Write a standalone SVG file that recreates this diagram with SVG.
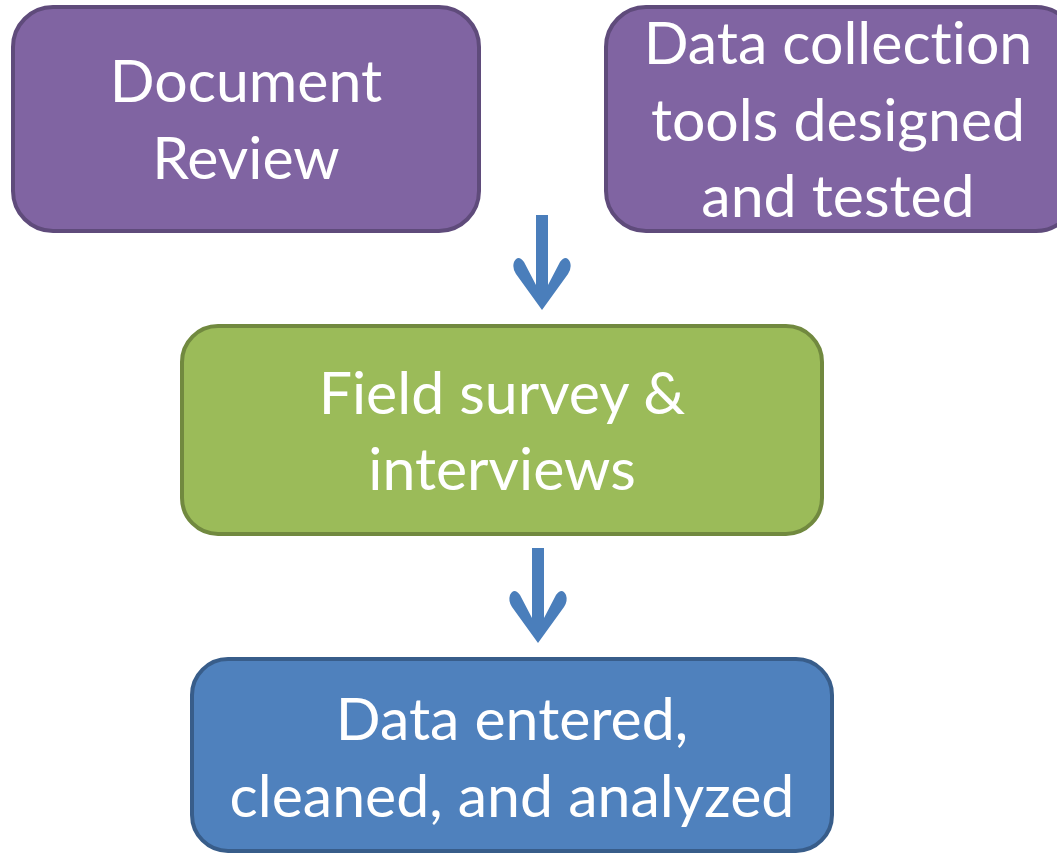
<svg xmlns="http://www.w3.org/2000/svg" width="1057" height="855" viewBox="0 0 1057 855">
<style>
.box{stroke-width:4}
.purple{fill:#8064A2;stroke:#5F4B7B}
.green{fill:#9BBB59;stroke:#71893F}
.blue{fill:#4F81BD;stroke:#385D8A}
.lbl{font-family:Lato,"Liberation Sans",sans-serif;font-size:59px;fill:#fff;text-anchor:middle;font-variant-ligatures:none}
.arrow{fill:#4A7EBB}
</style>
<rect width="1057" height="855" fill="#fff"/>
<g id="node-document-review">
<rect class="box purple" x="13" y="7" width="466" height="224" rx="40"/>
<text class="lbl" x="246" y="102">Document</text>
<text class="lbl" x="246" y="179">Review</text>
</g>
<g id="node-data-collection-tools">
<rect class="box purple" x="606" y="7" width="470" height="224" rx="40"/>
<text class="lbl" x="838" y="64">Data collection</text>
<text class="lbl" x="838" y="141">tools designed</text>
<text class="lbl" x="838" y="217">and tested</text>
</g>
<g id="node-field-survey">
<rect class="box green" x="182" y="326" width="640" height="208" rx="36"/>
<text class="lbl" x="502" y="414">Field survey &amp;</text>
<text class="lbl" x="502" y="490">interviews</text>
</g>
<g id="node-data-entered">
<rect class="box blue" x="192" y="659" width="640" height="192" rx="36"/>
<text class="lbl" x="512" y="740">Data entered,</text>
<text class="lbl" x="512" y="817">cleaned, and analyzed</text>
</g>
<g id="connectors">
<path class="arrow" d="M536 215 H548 V285 L560 262 Q566 254 570 262 Q572 268 568 274 L542 310 L516 274 Q512 268 514 262 Q518 254 524 262 L536 285 Z"/>
<path class="arrow" d="M532 548 H544 V618 L556 595 Q562 587 566 595 Q568 601 564 607 L538 643 L512 607 Q508 601 510 595 Q514 587 520 595 L532 618 Z"/>
</g>
</svg>
